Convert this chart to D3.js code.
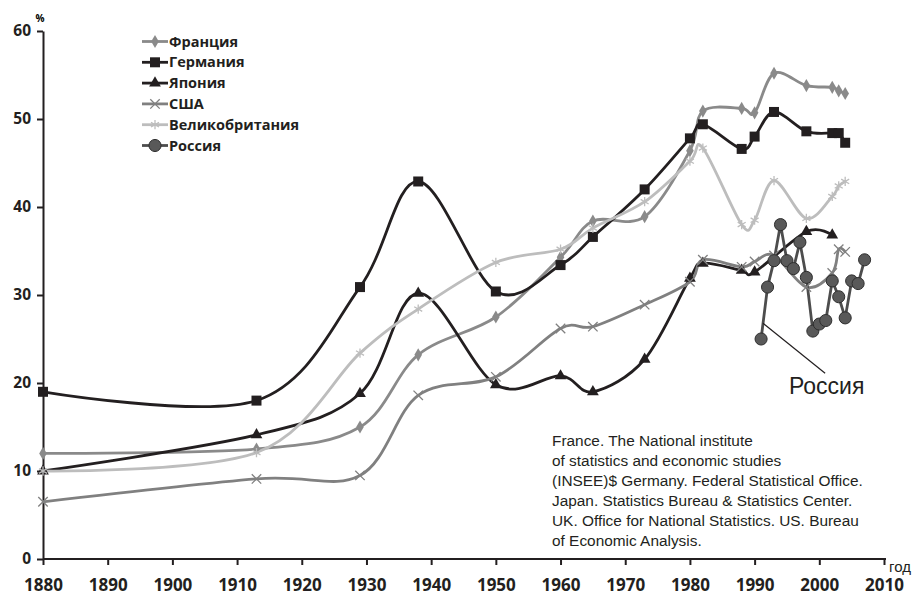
<!DOCTYPE html>
<html>
<head>
<meta charset="utf-8">
<title>Налоговая нагрузка</title>
<script src="https://d3js.org/d3.v7.min.js"></script>
<style>
body { margin: 0; background: #fff; }
svg { display: block; }
.axis path, .axis line { stroke: #231f20; stroke-width: 2px; }
.axis text { font-family: "Open Sans", sans-serif; font-weight: bold; fill: #231f20; }
.legend text { font-family: "Open Sans", sans-serif; font-weight: bold; font-size: 14.5px; fill: #231f20; }
.note { font-family: "Liberation Sans", Arial, sans-serif; font-size: 15.4px; fill: #231f20; }
</style>
</head>
<body>
<svg id="chart" width="918" height="595"></svg>
<script>
// values, % of GDP
var france = [[1880,12],[1913,12.5],[1929,15],[1938,23.2],[1950,27.5],[1960,34.3],[1965,38.4],[1973,38.9],
  [1980,46.4],[1982,50.9],[1988,51.2],[1990,50.7],[1993,55.2],[1998,53.8],[2002,53.6],[2003,53.2],[2004,52.9]];
var germany = [[1880,19],[1913,18],[1929,30.9],[1938,42.9],[1950,30.4],[1960,33.4],[1965,36.6],[1973,42],
  [1980,47.8],[1982,49.4],[1988,46.6],[1990,48],[1993,50.8],[1998,48.6],[2002,48.4],[2003,48.4],[2004,47.3]];
var japan = [[1880,10],[1913,14.1],[1929,18.8],[1938,30.2],[1950,19.8],[1960,20.8],[1965,19],[1973,22.7],
  [1980,31.9],[1982,33.6],[1988,32.8],[1990,32.6],[1998,37.2],[2002,36.8]];
var usa = [[1880,6.5],[1913,9.1],[1929,9.5],[1938,18.6],[1950,20.7],[1960,26.2],[1965,26.4],[1973,28.9],
  [1980,31.5],[1982,34],[1988,33.2],[1990,33.8],[1993,34.5],[1998,30.9],[2002,32.5],[2003,35.2],[2004,34.9]];
var uk = [[1880,10],[1913,12.1],[1929,23.4],[1938,28.4],[1950,33.7],[1960,35.2],[1965,37.6],[1973,40.6],
  [1980,45.2],[1982,46.7],[1988,38],[1990,38.5],[1993,43],[1998,38.7],[2002,41.2],[2003,42.4],[2004,42.9]];
var russia = [[1991,25],[1992,30.9],[1993,33.9],[1994,38],[1995,33.9],[1996,33],[1997,36],[1998,32],
  [1999,25.9],[2000,26.7],[2001,27.1],[2002,31.6],[2003,29.8],[2004,27.4],[2005,31.6],[2006,31.3],[2007,34]];

var xTicks = [1880,1890,1900,1910,1920,1930,1940,1950,1960,1970,1980,1990,2000,2010];
var yTicks = [0,10,20,30,40,50,60];

var series = [
  {name: "Франция", data: france, color: "#8a8a8a", symbol: d3.symbolDiamond, size: 50, fill: true, smooth: true},
  {name: "Германия", data: germany, color: "#231f20", symbol: d3.symbolSquare, size: 100, fill: true, smooth: true},
  {name: "Япония", data: japan, color: "#231f20", symbol: d3.symbolTriangle, size: 60, fill: true, smooth: true},
  {name: "США", data: usa, color: "#808080", symbol: d3.symbolX, size: 60, fill: false, smooth: true},
  {name: "Великобритания", data: uk, color: "#bdbdbd", symbol: d3.symbolAsterisk, size: 60, fill: false, smooth: true},
  {name: "Россия", data: russia, color: "#4d4d4d", symbol: d3.symbolCircle, size: 115, fill: true, smooth: false}
];

var svg = d3.select("#chart");
var x = d3.scaleLinear().domain([1880, 2010]).range([43, 884]);
var y = d3.scaleLinear().domain([0, 60]).range([559, 31]);

// axes
var yAxis = d3.axisLeft(y).tickValues(yTicks).tickSize(6).tickSizeOuter(0).tickPadding(6);
var gy = svg.append("g").attr("class", "axis").attr("transform", "translate(" + x(1880) + ",0)").call(yAxis);
gy.selectAll("text").style("font-size", "15.5px");

var xAxis = d3.axisBottom(x).tickValues(xTicks).tickFormat(d3.format("d"))
  .tickSize(6).tickSizeOuter(0).tickPadding(14);
var gx = svg.append("g").attr("class", "axis").attr("transform", "translate(0," + y(0) + ")").call(xAxis);
gx.selectAll("text").style("font-size", "17px");
gx.select(".domain").attr("d", "M" + x(1880) + ",0H" + (x(2010) + 2));

svg.append("text").attr("x", 40).attr("y", 22).attr("text-anchor", "middle")
  .style("font-family", "Open Sans, sans-serif").style("font-weight", "bold").style("font-size", "10px")
  .text("%");
svg.append("text").attr("x", 889).attr("y", 572)
  .style("font-family", "Liberation Sans, Arial, sans-serif").style("font-size", "15px").attr("fill", "#231f20")
  .text("год");

// lines
var line = d3.line().x(function (d) { return x(d[0]); }).y(function (d) { return y(d[1]); });

series.forEach(function (s) {
  svg.append("path")
    .datum(s.data)
    .attr("fill", "none")
    .attr("stroke", s.color)
    .attr("stroke-width", 2.8)
    .attr("d", line.curve(s.smooth ? d3.curveCardinal.tension(0) : d3.curveLinear));
});

function drawMarkers(g, s, pts) {
  var circle = s.symbol === d3.symbolCircle;
  g.selectAll(null)
    .data(pts)
    .enter().append("path")
    .attr("transform", function (d) { return "translate(" + d[0] + "," + d[1] + ")"; })
    .attr("d", d3.symbol().type(s.symbol).size(s.size))
    .attr("fill", s.fill ? (circle ? "#595959" : s.color) : "none")
    .attr("stroke", circle ? "#2e2e2e" : s.color)
    .attr("stroke-width", s.fill ? (circle ? 1 : 0) : 1.3);
}

series.forEach(function (s) {
  var g = svg.append("g");
  drawMarkers(g, s, s.data.map(function (d) { return [x(d[0]), y(d[1])]; }));
});

// legend
var legend = svg.append("g").attr("class", "legend");
series.forEach(function (s, i) {
  var ly = 41.5 + i * 20.8;
  var g = legend.append("g");
  g.append("line").attr("x1", 142).attr("x2", 168).attr("y1", ly).attr("y2", ly)
    .attr("stroke", s.color).attr("stroke-width", 2.8);
  drawMarkers(g, s, [[155, ly]]);
  g.append("text").attr("x", 169).attr("y", ly).attr("dy", "0.35em").text(s.name);
});

// Russia callout
svg.append("line")
  .attr("x1", x(1991.3)).attr("y1", y(26.8))
  .attr("x2", x(2000.9)).attr("y2", y(21.1))
  .attr("stroke", "#231f20").attr("stroke-width", 1.2);
svg.append("text").attr("x", 789).attr("y", 394)
  .style("font-family", "Liberation Sans, Arial, sans-serif").style("font-size", "23px").attr("fill", "#231f20")
  .text("Россия");

// source note
var note = [
  "France. The National institute",
  "of statistics and economic studies",
  "(INSEE)$ Germany. Federal Statistical Office.",
  "Japan. Statistics Bureau & Statistics Center.",
  "UK. Office for National Statistics. US. Bureau",
  "of Economic Analysis."
];
svg.append("g").selectAll("text")
  .data(note)
  .enter().append("text")
  .attr("class", "note")
  .attr("x", 552)
  .attr("y", function (d, i) { return 446 + i * 20; })
  .text(function (d) { return d; });
</script>
</body>
</html>
